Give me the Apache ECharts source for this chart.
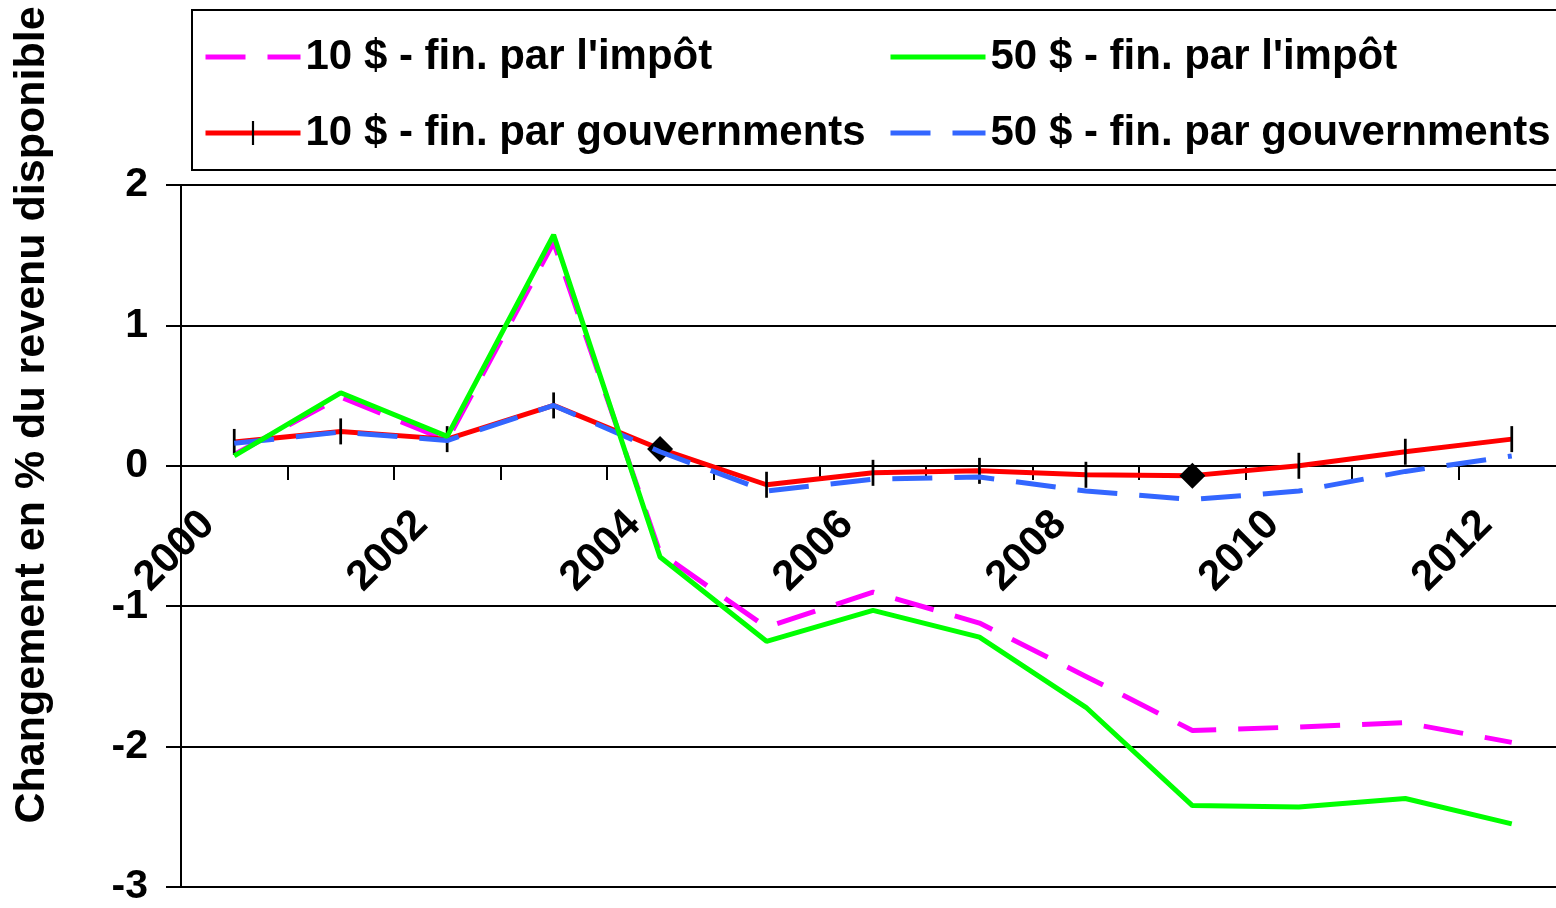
<!DOCTYPE html>
<html>
<head>
<meta charset="utf-8">
<script src="https://cdn.jsdelivr.net/npm/echarts@6/dist/echarts.min.js"></script>
<style>
html, body { margin: 0; padding: 0; background: #fff; }
#chart { width: 1556px; height: 908px; }
</style>
</head>
<body>
<div id="chart"></div>
<script>
// Changement en % du revenu disponible
var years = ['2000', '2001', '2002', '2003', '2004', '2005', '2006', '2007', '2008', '2009', '2010', '2011', '2012'];
var impot10 = [0.08, 0.49, 0.18, 1.59, -0.62, -1.15, -0.90, -1.12, -1.50, -1.885, -1.86, -1.83, -1.97];
var impot50 = [0.07, 0.52, 0.21, 1.645, -0.65, -1.25, -1.03, -1.22, -1.72, -2.42, -2.43, -2.37, -2.55];
var gouv10 = [0.17, 0.245, 0.19, 0.43, 0.12, -0.135, -0.05, -0.036, -0.064, -0.07, 0.0, 0.10, 0.19];
var gouv50 = [0.16, 0.24, 0.18, 0.43, 0.10, -0.18, -0.095, -0.08, -0.18, -0.24, -0.18, -0.04, 0.07];
var diamondYears = ['2004', '2009'];
var names = ["10 $ - fin. par l'impôt", "50 $ - fin. par l'impôt", "10 $ - fin. par gouvernments", "50 $ - fin. par gouvernments"];

var font = "'Liberation Sans', Arial, sans-serif";
var chart = echarts.init(document.getElementById('chart'));

// thin vertical bar, with empty points left and right so it keeps its shape in the legend
var tickMark = 'path://M-5,0L-5,0M0,0L1,0L1,10L0,10ZM6,10L6,10';

var legendText = { fontSize: 42, fontWeight: 'bold', color: '#000', fontFamily: font, lineHeight: 46 };
function legendItem(name, hideSymbol) {
    return hideSymbol ? { name: name, itemStyle: { opacity: 0 } } : { name: name };
}

var option = {
    animation: false,
    backgroundColor: '#fff',
    grid: { left: 181, right: -9, top: 185, bottom: 21, containLabel: false, outerBoundsMode: 'none' },
    legend: [
        {
            orient: 'vertical', left: 198, top: 29,
            itemWidth: 95, itemHeight: 30, itemGap: 30, itemTextGap: 6,
            lineStyle: { width: 5 },
            textStyle: legendText,
            data: [legendItem(names[0], true), legendItem(names[2], false)]
        },
        {
            orient: 'vertical', left: 883, top: 29,
            itemWidth: 95, itemHeight: 30, itemGap: 30, itemTextGap: 6,
            lineStyle: { width: 5 },
            textStyle: legendText,
            data: [legendItem(names[1], true), legendItem(names[3], true)]
        }
    ],
    graphic: [
        {
            type: 'rect', silent: true,
            shape: { x: 192, y: 10, width: 1420, height: 160 },
            style: { fill: 'none', stroke: '#000', lineWidth: 2 }
        },
        {
            type: 'text', silent: true,
            x: 32, y: 415, rotation: Math.PI / 2,
            style: {
                text: 'Changement en % du revenu disponible',
                fontSize: 43, fontWeight: 'bold', fontFamily: font, fill: '#000',
                align: 'center', verticalAlign: 'middle'
            }
        }
    ],
    xAxis: {
        type: 'category',
        data: years,
        boundaryGap: true,
        offset: -421,
        axisLine: { onZero: false, lineStyle: { color: '#000', width: 2 } },
        axisTick: { show: true, interval: 0, length: 14, lineStyle: { color: '#000', width: 2 } },
        axisLabel: {
            interval: 1, rotate: 45, margin: 26, padding: [0, 37, 0, 0],
            fontSize: 42, fontWeight: 'bold', color: '#000', fontFamily: font
        },
        splitLine: { show: false }
    },
    yAxis: {
        type: 'value',
        min: -3, max: 2, interval: 1,
        axisLine: { show: true, lineStyle: { color: '#000', width: 2 } },
        axisTick: { show: true, length: 15, lineStyle: { color: '#000', width: 2 } },
        axisLabel: { margin: 33, fontSize: 41, fontWeight: 'bold', color: '#000', fontFamily: font },
        splitLine: { show: true, lineStyle: { color: '#000', width: 2 } }
    },
    series: [
        {
            name: names[0], type: 'line', z: 2,
            data: impot10, symbol: 'none',
            lineStyle: { color: '#FF00FF', width: 5, type: [40, 22] },
            itemStyle: { color: '#FF00FF' }
        },
        {
            name: names[1], type: 'line', z: 5,
            data: impot50, symbol: 'none',
            lineStyle: { color: '#00FF00', width: 5 },
            itemStyle: { color: '#00FF00' }
        },
        {
            name: names[2], type: 'line', z: 3,
            data: gouv10.map(function (v, i) {
                if (diamondYears.indexOf(years[i]) >= 0) {
                    return { value: v, symbol: 'diamond', symbolSize: 26 };
                }
                return v;
            }),
            symbol: tickMark, symbolSize: [30, 26],
            showAllSymbol: true,
            lineStyle: { color: '#FF0000', width: 5 },
            itemStyle: { color: '#000' }
        },
        {
            name: names[3], type: 'line', z: 4,
            data: gouv50, symbol: 'none',
            lineStyle: { color: '#3366FF', width: 5, type: [40, 22] },
            itemStyle: { color: '#3366FF' }
        }
    ]
};

chart.setOption(option);
window.onresize = chart.resize;
</script>
</body>
</html>
